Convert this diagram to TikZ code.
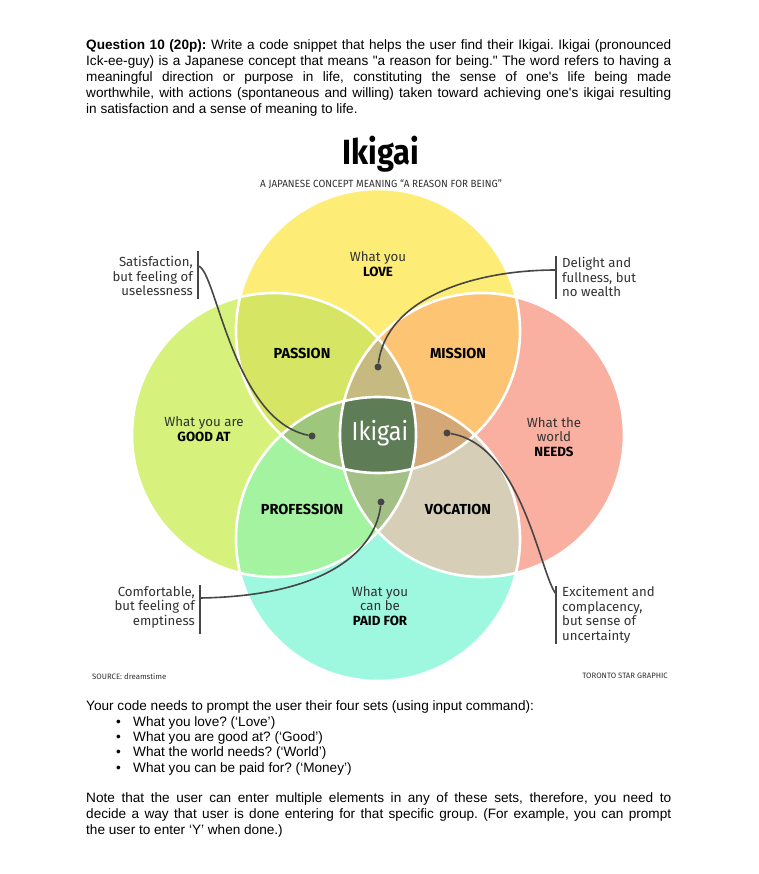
\documentclass[tikz,border=0pt]{standalone}
\usepackage{fontspec}
\setmainfont{Liberation Sans}
\newfontfamily\arialf{Liberation Sans}
\newfontfamily\fira{Fira Sans}
\frenchspacing
\definecolor{yellowC}{RGB}{253,237,118}
\definecolor{limeC}{RGB}{214,242,124}
\definecolor{pinkC}{RGB}{249,176,160}
\definecolor{aquaC}{RGB}{158,248,224}
\definecolor{passionC}{RGB}{214,230,100}
\definecolor{missionC}{RGB}{253,196,116}
\definecolor{professionC}{RGB}{163,243,160}
\definecolor{vocationC}{RGB}{214,206,182}
\definecolor{topLensC}{RGB}{198,186,128}
\definecolor{leftLensC}{RGB}{158,198,124}
\definecolor{rightLensC}{RGB}{212,168,118}
\definecolor{bottomLensC}{RGB}{163,192,134}
\definecolor{centerC}{RGB}{94,125,86}
\definecolor{inkC}{RGB}{70,70,70}
\definecolor{labelC}{RGB}{50,50,50}
\tikzset{
  bodyline/.style={anchor=base west, inner sep=0pt, font=\arialf\fontsize{13.6}{16}\selectfont},
  setlabel/.style={align=center, inner sep=0pt, text=labelC, font=\fira\fontsize{13.3}{14.5}\selectfont},
  regionlabel/.style={inner sep=0pt, font=\fira\bfseries\fontsize{14.5}{16}\selectfont},
  sidelabel/.style={inner sep=0pt, text=labelC, font=\fira\fontsize{13.2}{14.5}\selectfont},
  sidebar/.style={draw=inkC, line width=1.8pt},
  conn/.style={draw=inkC, line width=1.6pt},
  dotn/.style={circle, fill=inkC, inner sep=0pt, minimum size=7pt},
  smallcap/.style={inner sep=0pt, text=labelC, font=\fira\fontsize{7.8}{9}\selectfont},
}
\begin{document}
\begin{tikzpicture}[x=1pt,y=-1pt]
\useasboundingbox (0,0) rectangle (758,874);
\fill[white] (0,0) rectangle (758,874);

% header paragraph
\node[bodyline] (h1) at (86,50) {\makebox[585pt][s]{\textbf{Question 10 (20p):} Write a code snippet that helps the user find their Ikigai. Ikigai (pronounced}};
\node[bodyline] (h2) at (86,66) {\makebox[585pt][s]{Ick-ee-guy) is a Japanese concept that means "a reason for being." The word refers to having a}};
\node[bodyline] (h3) at (86,82) {\makebox[585pt][s]{meaningful direction or purpose in life, constituting the sense of one's life being made}};
\node[bodyline] (h4) at (86,98) {\makebox[585pt][s]{worthwhile, with actions (spontaneous and willing) taken toward achieving one's ikigai resulting}};
\node[bodyline] (h5) at (86,114) {in satisfaction and a sense of meaning to life.};

% title
\node[inner sep=0pt, font=\fira\bfseries\fontsize{35}{40}\selectfont] (title) at (381,154) {\scalebox{0.88}[1]{Ikigai}};
\node[inner sep=0pt, text=labelC, font=\fira\fontsize{10.4}{12}\selectfont] (subtitle) at (381,184) {\scalebox{0.95}[1]{A JAPANESE CONCEPT MEANING “A REASON FOR BEING”}};

% circles
\coordinate (cT) at (378,331);
\coordinate (cB) at (378,539);
\coordinate (cL) at (274,435);
\coordinate (cR) at (482,435);
\def\R{142pt}
\fill[yellowC] (cT) circle[radius=\R];
\fill[limeC] (cL) circle[radius=\R];
\fill[pinkC] (cR) circle[radius=\R];
\fill[aquaC] (cB) circle[radius=\R];
% pairs
\begin{scope}\clip (cT) circle[radius=\R]; \fill[passionC] (cL) circle[radius=\R];\end{scope}
\begin{scope}\clip (cT) circle[radius=\R]; \fill[missionC] (cR) circle[radius=\R];\end{scope}
\begin{scope}\clip (cB) circle[radius=\R]; \fill[professionC] (cL) circle[radius=\R];\end{scope}
\begin{scope}\clip (cB) circle[radius=\R]; \fill[vocationC] (cR) circle[radius=\R];\end{scope}
% triples
\begin{scope}\clip (cT) circle[radius=\R]; \clip (cL) circle[radius=\R]; \fill[topLensC] (cR) circle[radius=\R];\end{scope}
\begin{scope}\clip (cT) circle[radius=\R]; \clip (cL) circle[radius=\R]; \fill[leftLensC] (cB) circle[radius=\R];\end{scope}
\begin{scope}\clip (cT) circle[radius=\R]; \clip (cR) circle[radius=\R]; \fill[rightLensC] (cB) circle[radius=\R];\end{scope}
\begin{scope}\clip (cB) circle[radius=\R]; \clip (cL) circle[radius=\R]; \fill[bottomLensC] (cR) circle[radius=\R];\end{scope}
% quad
\begin{scope}\clip (cT) circle[radius=\R]; \clip (cL) circle[radius=\R]; \clip (cR) circle[radius=\R]; \fill[centerC] (cB) circle[radius=\R];\end{scope}
% white outlines
\foreach \c in {cT,cL,cR,cB} \draw[white, line width=2.6pt] (\c) circle[radius=\R];

% set labels
\node[setlabel] (love) at (378,264) {What you\\\textcolor{black}{\bfseries LOVE}};
\node[setlabel] (good) at (204,429) {What you are\\\textcolor{black}{\bfseries GOOD AT}};
\node[setlabel] (needs) at (554,437) {What the\\world\\\textcolor{black}{\bfseries NEEDS}};
\node[setlabel] (paid) at (380,606) {What you\\can be\\\textcolor{black}{\bfseries PAID FOR}};

% region labels
\node[regionlabel] (passion) at (302,353) {PASSION};
\node[regionlabel] (mission) at (458,353) {MISSION};
\node[regionlabel] (profession) at (302,509) {PROFESSION};
\node[regionlabel] (vocation) at (458,509) {VOCATION};
\node[inner sep=0pt, text=white, font=\fira\fontsize{26}{30}\selectfont] (ik) at (380,433) {\scalebox{0.9}[1]{Ikigai}};

% dots
\node[dotn] (dL) at (312,436) {};
\node[dotn] (dT) at (378,367) {};
\node[dotn] (dR) at (447,433) {};
\node[dotn] (dB) at (381,502) {};

% side labels and bars
\node[sidelabel, anchor=east, align=right] (s1) at (193,276) {Satisfaction,\\but feeling of\\uselessness};
\coordinate (b1t) at (198,251); \coordinate (b1b) at (198,299); \coordinate (b1c) at (198,266);
\draw[sidebar] (b1t) -- (b1b);
\draw[conn] (b1c) .. controls (216,268) and (232,420) .. (dL);

\node[sidelabel, anchor=west, align=left] (s2) at (562,277) {Delight and\\fullness, but\\no wealth};
\coordinate (b2t) at (556,256); \coordinate (b2b) at (556,299); \coordinate (b2c) at (556,270);
\draw[sidebar] (b2t) -- (b2b);
\draw[conn] (b2c) .. controls (470,270) and (386,300) .. (dT);

\node[sidelabel, anchor=east, align=right] (s3) at (195,607) {Comfortable,\\but feeling of\\emptiness};
\coordinate (b3t) at (200,585); \coordinate (b3b) at (200,634); \coordinate (b3c) at (200,598);
\draw[sidebar] (b3t) -- (b3b);
\draw[conn] (b3c) .. controls (330,596) and (376,548) .. (dB);

\node[sidelabel, anchor=west, align=left] (s4) at (562,615) {Excitement and\\complacency,\\but sense of\\uncertainty};
\coordinate (b4t) at (556,586); \coordinate (b4b) at (556,644); \coordinate (b4c) at (556,594);
\draw[sidebar] (b4t) -- (b4b);
\draw[conn] (dR) .. controls (522,445) and (540,574) .. (b4c);

% source lines
\node[smallcap, anchor=west] (src) at (92,676) {SOURCE: dreamstime};
\node[smallcap, anchor=east] (tsg) at (668,676) {TORONTO STAR GRAPHIC};

% bottom text
\node[bodyline] (y1) at (86,710) {Your code needs to prompt the user their four sets (using input command):};
\node[bodyline] (bu1) at (116,726.5) {\textbullet};
\node[bodyline] (t1) at (133,726.5) {What you love? (‘Love’)};
\node[bodyline] (bu2) at (116,741.5) {\textbullet};
\node[bodyline] (t2) at (133,741.5) {What you are good at? (‘Good’)};
\node[bodyline] (bu3) at (116,756.5) {\textbullet};
\node[bodyline] (t3) at (133,756.5) {What the world needs? (‘World’)};
\node[bodyline] (bu4) at (116,772) {\textbullet};
\node[bodyline] (t4) at (133,772) {What you can be paid for? (‘Money’)};

\node[bodyline] (n1) at (86,802) {\makebox[585pt][s]{Note that the user can enter multiple elements in any of these sets, therefore, you need to}};
\node[bodyline] (n2) at (86,818) {\makebox[585pt][s]{decide a way that user is done entering for that specific group. (For example, you can prompt}};
\node[bodyline] (n3) at (86,834) {the user to enter ‘Y’ when done.)};
\end{tikzpicture}
\end{document}
